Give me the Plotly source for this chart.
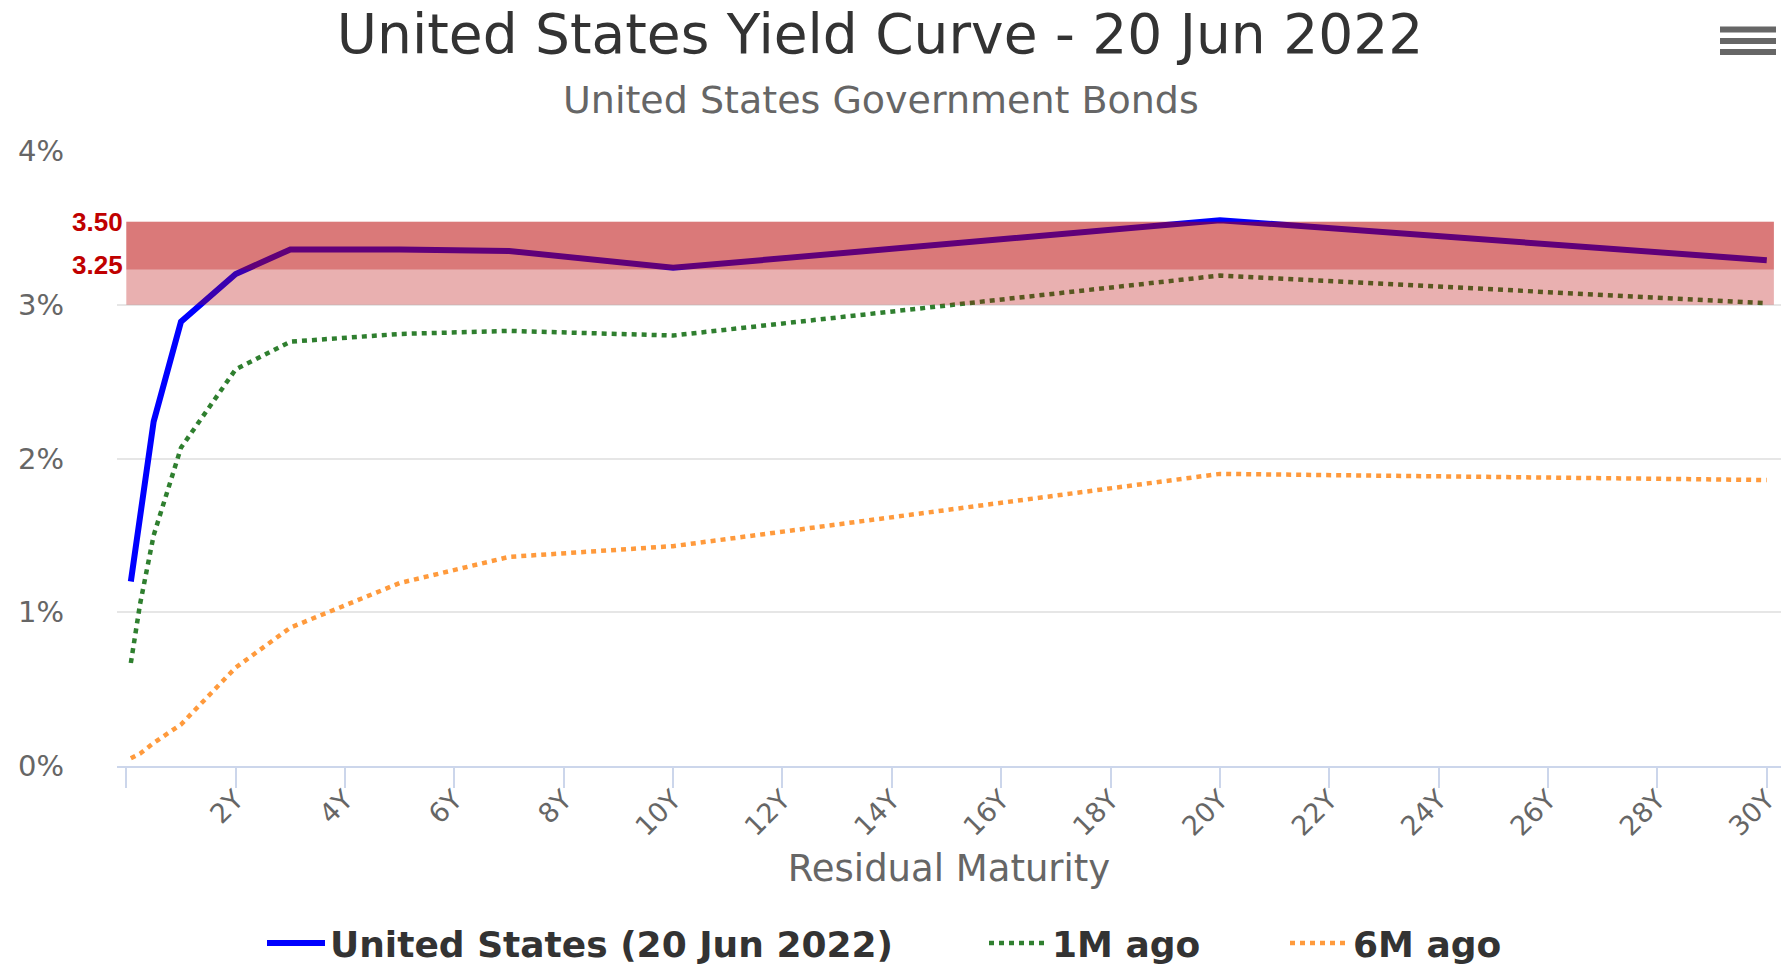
import plotly.graph_objects as go

# ---- data ----
maturity_years = [1/12, 0.25, 0.5, 1, 2, 3, 5, 7, 10, 20, 30]
us_20jun2022 = [1.20, 1.60, 2.24, 2.89, 3.20, 3.36, 3.36, 3.35, 3.24, 3.55, 3.29]
one_month_ago = [0.67, 1.05, 1.50, 2.07, 2.58, 2.76, 2.81, 2.83, 2.80, 3.19, 3.01]
six_months_ago = [0.05, 0.08, 0.15, 0.27, 0.64, 0.90, 1.19, 1.36, 1.43, 1.90, 1.86]

x_tick_values = list(range(0, 31, 2))
x_tick_labels = [""] + [f"{v}Y" for v in range(2, 31, 2)]
y_tick_values = [0, 1, 2, 3, 4]
y_tick_labels = ["0%", "1%", "2%", "3%", "4%"]

band_low = 3.00
band_mid = 3.23
band_high = 3.54
band_labels = ["3.50", "3.25"]

series_names = ["United States (20 Jun 2022)", "1M ago", "6M ago"]

# ---- figure ----
W, H = 1781, 964
ML, MR, MT, MB = 117, 0, 151, 198
PW, PH = W - ML - MR, H - MT - MB

def px_x(px):
    return (px - ML) / PW

def px_y(py):
    return (H - MB - py) / PH

fig = go.Figure()
fig.add_trace(go.Scatter(
    x=maturity_years, y=us_20jun2022, name=series_names[0], mode="lines",
    line=dict(color="#0000ff", width=6), legend="legend"))
fig.add_trace(go.Scatter(
    x=maturity_years, y=one_month_ago, name=series_names[1], mode="lines",
    line=dict(color="#2f7f2f", width=4.5, dash="5px,5px"), legend="legend2"))
fig.add_trace(go.Scatter(
    x=maturity_years, y=six_months_ago, name=series_names[2], mode="lines",
    line=dict(color="#ff9a3c", width=4.5, dash="5px,5px"), legend="legend3"))

band_color = "rgba(184,0,0,0.31)"
shapes = [
    dict(type="rect", xref="x", yref="y", x0=0, x1=30.13, y0=band_low, y1=band_high,
         fillcolor=band_color, line=dict(width=0), layer="above"),
    dict(type="rect", xref="x", yref="y", x0=0, x1=30.13, y0=band_mid, y1=band_high,
         fillcolor=band_color, line=dict(width=0), layer="above"),
]
# menu (hamburger) icon
for py in (29.5, 41, 52):
    shapes.append(dict(type="line", xref="paper", yref="paper",
                       x0=px_x(1720), x1=px_x(1776), y0=px_y(py), y1=px_y(py),
                       line=dict(color="#666666", width=6)))

annotations = [
    dict(text="United States Government Bonds", xref="paper", yref="paper",
         x=px_x(881), y=px_y(100), xanchor="center", yanchor="middle", showarrow=False,
         font=dict(family="DejaVu Sans", size=38, color="#666666")),
    dict(text=f"<b>{band_labels[0]}</b>", xref="x", yref="y", x=0, y=3.54,
         xanchor="right", yanchor="middle", xshift=-1, showarrow=False,
         font=dict(family="Liberation Sans", size=26, color="#c00000")),
    dict(text=f"<b>{band_labels[1]}</b>", xref="x", yref="y", x=0, y=3.26,
         xanchor="right", yanchor="middle", xshift=-1, showarrow=False,
         font=dict(family="Liberation Sans", size=26, color="#c00000")),
]

legend_font = dict(family="DejaVu Sans", size=36, color="#333333", weight="bold")
legend_common = dict(orientation="h", xref="container", yref="container",
                     xanchor="left", y=1 - 943 / H, yanchor="middle",
                     font=legend_font, itemwidth=58, bgcolor="rgba(0,0,0,0)")

fig.update_layout(
    width=W, height=H, autosize=False,
    margin=dict(l=ML, r=MR, t=MT, b=MB, pad=0),
    paper_bgcolor="white", plot_bgcolor="white",
    title=dict(text="United States Yield Curve - 20 Jun 2022",
               x=880 / W, xref="container", xanchor="center",
               y=1 - 34 / H, yref="container", yanchor="middle",
               font=dict(family="DejaVu Sans", size=55, color="#333333")),
    showlegend=True,
    legend=dict(x=262 / W, **legend_common),
    legend2=dict(x=984 / W, **legend_common),
    legend3=dict(x=1285 / W, **legend_common),
    xaxis=dict(range=[-0.17, 30.26], tickvals=x_tick_values, ticktext=x_tick_labels,
               tickangle=-45, ticks="outside", ticklen=20, tickwidth=2, tickcolor="#ccd6eb",
               showline=True, linecolor="#ccd6eb", linewidth=2, showgrid=False,
               zeroline=False, ticklabelstandoff=-15,
               tickfont=dict(family="DejaVu Sans", size=27, color="#666666"),
               title=dict(text="Residual Maturity", standoff=14,
                          font=dict(family="DejaVu Sans", size=37, color="#666666")),
               automargin=False, fixedrange=True),
    yaxis=dict(range=[0, 4], tickvals=y_tick_values, ticktext=y_tick_labels,
               showgrid=True, gridcolor="#e6e6e6", gridwidth=2, zeroline=False,
               showline=False, ticks="", ticklabelstandoff=52,
               tickfont=dict(family="DejaVu Sans", size=29, color="#666666"),
               automargin=False, fixedrange=True),
    shapes=shapes, annotations=annotations,
)

fig.write_html("out.html", config={"displayModeBar": False},
               post_script="document.body.style.margin='0';document.body.style.overflow='hidden';")
